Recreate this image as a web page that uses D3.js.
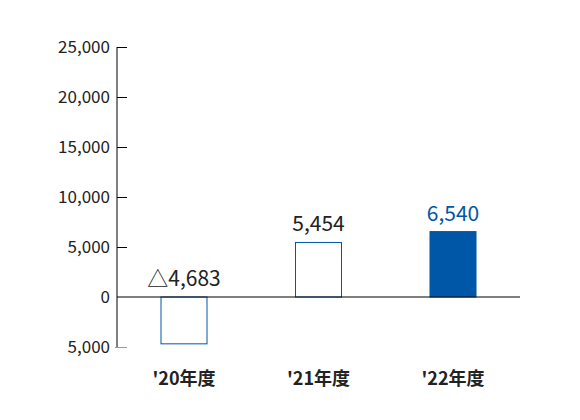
<!DOCTYPE html>
<html><head><meta charset="utf-8">
<script src="https://cdn.jsdelivr.net/npm/d3@7"></script>
<style>body{margin:0;background:#fff}text{font-family:"Noto Sans CJK JP","Noto Sans",sans-serif}</style>
</head><body>
<script>
const categories = ["'20年度", "'21年度", "'22年度"]
const values = [-4683, 5454, 6540]
const labels = ['△4,683', '5,454', '6,540']
const yTicks = [-5000, 0, 5000, 10000, 15000, 20000, 25000]

const svg = d3.select('body').append('svg').attr('width', 580).attr('height', 420)
const y = d3.scaleLinear().domain([-5000, 25000]).range([347, 47])
//bar centres
const x = d3.scalePoint().domain(categories).range([184, 453])
const bw = 46

//axis with ticks pointing right
const yAxis = d3.axisRight(y).tickValues(yTicks).tickSize(10).tickFormat(() => '')
const ga = svg.append('g').attr('transform', 'translate(117,0)').call(yAxis)
ga.selectAll('path,line').attr('stroke', '#000')
ga.select('.domain').attr('d', `M0,${y(25000)}V${y(-5000)}`)
ga.selectAll('.tick line').filter(d => d === -5000).attr('stroke', '#999').attr('x1', -2)
ga.selectAll('.tick line').filter(d => d === 0).remove()

svg.selectAll('.yl').data(yTicks).enter().append('text')
  .attr('x', 110).attr('y', d => y(d)).attr('dy', '0.35em')
  .attr('text-anchor', 'end').attr('font-size', 17).attr('fill', '#222')
  .text(d => d3.format(',')(Math.abs(d)))

//bars
svg.selectAll('rect').data(values).enter().append('rect')
  .attr('x', (d, i) => x(categories[i]) - bw / 2)
  .attr('width', bw)
  .attr('y', d => y(Math.max(0, d)))
  .attr('height', d => Math.abs(y(d) - y(0)))
  .attr('fill', (d, i) => i === 2 ? '#0057a8' : '#fff')
  .attr('stroke', '#0057a8').attr('stroke-width', 1)

//zero line
svg.append('line').attr('x1', 117).attr('x2', 520).attr('y1', y(0)).attr('y2', y(0)).attr('stroke', '#000')

svg.selectAll('.vl').data(values).enter().append('text')
  .attr('x', (d, i) => x(categories[i]))
  .attr('y', d => y(Math.max(0, d)) - 11)
  .attr('text-anchor', 'middle').attr('font-size', 21)
  .attr('fill', (d, i) => i === 2 ? '#0057a8' : '#222')
  .text((d, i) => labels[i])

svg.selectAll('.cl').data(categories).enter().append('text')
  .attr('x', d => x(d)).attr('y', 385)
  .attr('text-anchor', 'middle').attr('font-size', 18).attr('font-weight', 'bold').attr('fill', '#222')
  .text(d => d)
</script>
</body></html>
